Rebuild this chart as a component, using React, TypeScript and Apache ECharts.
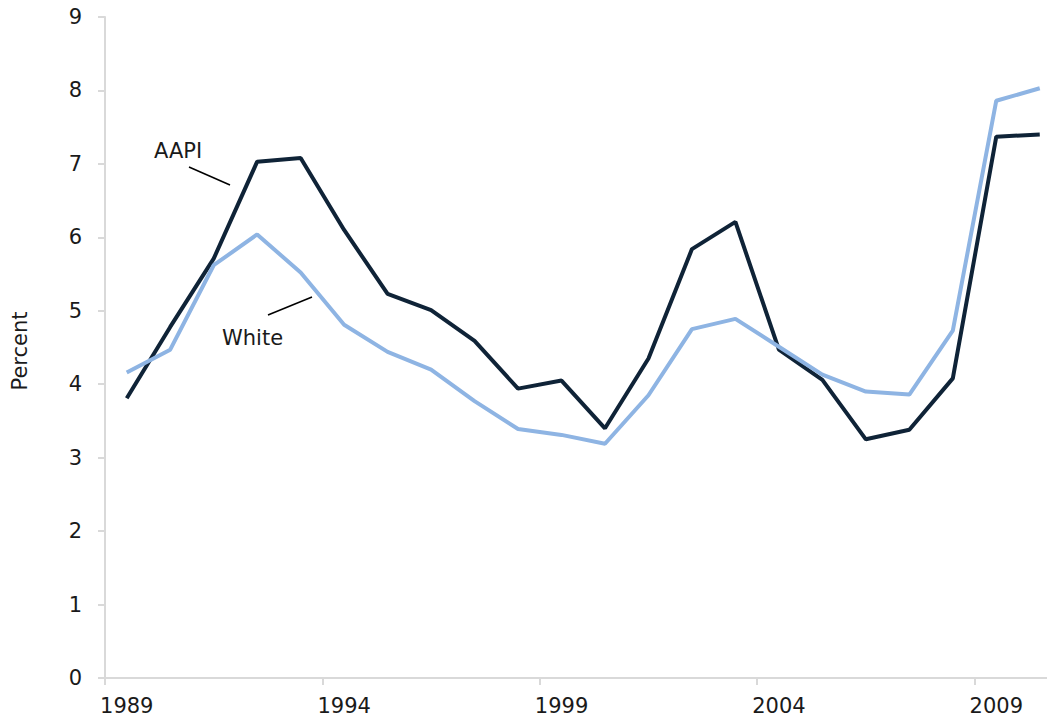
import React, { useEffect, useRef } from "react";
import * as echarts from "echarts";

const years = [
  "1989", "1990", "1991", "1992", "1993", "1994", "1995", "1996", "1997", "1998", "1999",
  "2000", "2001", "2002", "2003", "2004", "2005", "2006", "2007", "2008", "2009", "2010",
];
const aapi = [
  3.81, 4.78, 5.71, 7.03, 7.08, 6.1, 5.23, 5.01, 4.59, 3.94, 4.05,
  3.4, 4.35, 5.84, 6.21, 4.47, 4.06, 3.25, 3.38, 4.08, 7.37, 7.4,
];
const white = [
  4.16, 4.47, 5.62, 6.04, 5.52, 4.81, 4.44, 4.2, 3.77, 3.39, 3.31,
  3.19, 3.85, 4.75, 4.89, 4.51, 4.13, 3.9, 3.86, 4.73, 7.86, 8.03,
];
const yTicks = { min: 0, max: 9, interval: 1 };

const FONT = "DejaVu Sans";
const TEXT = "#1a1a1a";
const AXIS = "#d9d9d9";
const FS = 21;

export default function App() {
  const ref = useRef<HTMLDivElement>(null);
  useEffect(() => {
    if (!ref.current) return;
    const chart = echarts.init(ref.current, null, { renderer: "svg" });
    chart.setOption({
      animation: false,
      backgroundColor: "#ffffff",
      grid: { left: 105, top: 17, right: 0.5, bottom: 41, containLabel: false },
      xAxis: {
        type: "category",
        data: years,
        boundaryGap: true,
        axisLine: { show: true, lineStyle: { color: AXIS, width: 2 } },
        axisTick: { show: true, interval: 4, length: 7, lineStyle: { color: AXIS, width: 2 } },
        axisLabel: { interval: 4, margin: 17, color: TEXT, fontSize: FS, fontFamily: FONT },
        splitLine: { show: false },
      },
      yAxis: {
        type: "value",
        min: yTicks.min,
        max: yTicks.max,
        interval: yTicks.interval,
        axisLine: { show: true, lineStyle: { color: AXIS, width: 2 } },
        axisTick: { show: true, length: 7, lineStyle: { color: AXIS, width: 2 } },
        axisLabel: { margin: 23, color: TEXT, fontSize: FS, fontFamily: FONT },
        splitLine: { show: false },
      },
      series: [
        {
          name: "AAPI",
          type: "line",
          data: aapi,
          symbol: "none",
          lineStyle: { color: "#0f2337", width: 4 },
        },
        {
          name: "White",
          type: "line",
          data: white,
          symbol: "none",
          lineStyle: { color: "#8eb4e3", width: 4 },
        },
      ],
      graphic: [
        {
          type: "text",
          x: 20,
          y: 351,
          rotation: Math.PI / 2,
          style: {
            text: "Percent",
            fill: TEXT,
            font: `${FS}px '${FONT}'`,
            textAlign: "center",
            textVerticalAlign: "middle",
          },
        },
        {
          type: "text",
          x: 154,
          y: 151,
          style: {
            text: "AAPI",
            fill: TEXT,
            font: `${FS}px '${FONT}'`,
            textAlign: "left",
            textVerticalAlign: "middle",
          },
        },
        {
          type: "line",
          shape: { x1: 189, y1: 167, x2: 230, y2: 185 },
          style: { stroke: "#000", lineWidth: 1.5 },
        },
        {
          type: "text",
          x: 222,
          y: 338,
          style: {
            text: "White",
            fill: TEXT,
            font: `${FS}px '${FONT}'`,
            textAlign: "left",
            textVerticalAlign: "middle",
          },
        },
        {
          type: "line",
          shape: { x1: 268, y1: 315, x2: 312, y2: 297 },
          style: { stroke: "#000", lineWidth: 1.5 },
        },
      ],
    });
    return () => chart.dispose();
  }, []);
  return (
    <div
      ref={ref}
      style={{ position: "fixed", left: 0, top: 0, width: 1062, height: 719 }}
    />
  );
}
